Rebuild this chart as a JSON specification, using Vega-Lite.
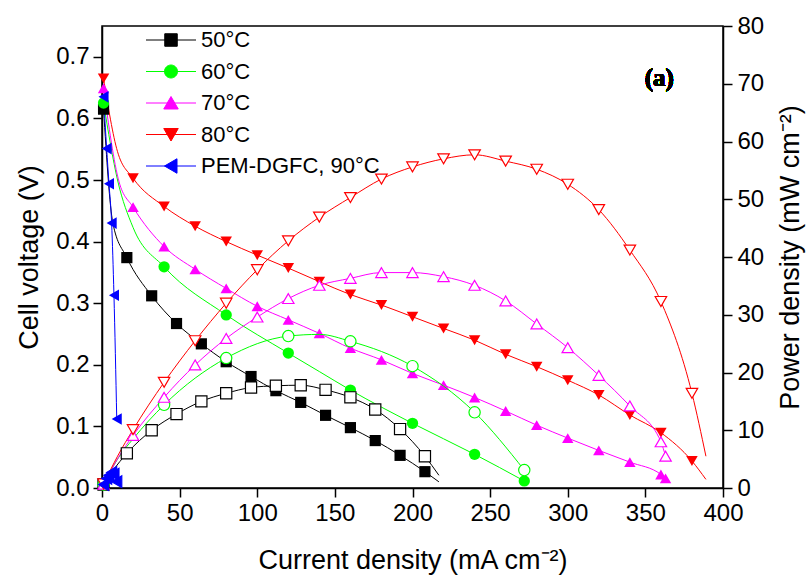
{
  "$schema": "https://vega.github.io/schema/vega-lite/v6.json",
  "width": 621,
  "height": 462,
  "autosize": {"type": "none"},
  "padding": {"left": 102, "top": 26, "right": 87, "bottom": 92},
  "background": "white",
  "config": {
    "font": "Liberation Sans",
    "view": {"stroke": "black", "strokeWidth": 1.5},
    "axis": {
      "domainColor": "black", "domainWidth": 1.5, "tickColor": "black", "tickWidth": 1.5,
      "labelColor": "black", "titleColor": "black", "titleFontWeight": "normal", "grid": false,
      "labelFontSize": 24, "titleFontSize": 27, "labelFont": "Liberation Sans", "titleFont": "Liberation Sans"
    },
    "legend": {
      "title": null, "orient": "none", "legendX": 58, "legendY": 3,
      "labelFontSize": 22, "labelFont": "Liberation Sans", "labelColor": "black", "labelLimit": 400,
      "symbolSize": 100, "symbolStrokeWidth": 1, "labelOffset": 19, "rowPadding": 9.5, "padding": 0, "symbolOffset": 0
    }
  },
  "data": {"values": [
    {"s": "50°C", "x": 1, "V": 0.615, "P": 0.6, "m": true},
    {"s": "50°C", "x": 7, "V": 0.43, "P": 3.0, "m": false},
    {"s": "50°C", "x": 16, "V": 0.374, "P": 6.0, "m": true},
    {"s": "50°C", "x": 32, "V": 0.312, "P": 10.0, "m": true},
    {"s": "50°C", "x": 48, "V": 0.267, "P": 12.8, "m": true},
    {"s": "50°C", "x": 64, "V": 0.234, "P": 15.0, "m": true},
    {"s": "50°C", "x": 80, "V": 0.205, "P": 16.4, "m": true},
    {"s": "50°C", "x": 96, "V": 0.181, "P": 17.4, "m": true},
    {"s": "50°C", "x": 112, "V": 0.158, "P": 17.7, "m": true},
    {"s": "50°C", "x": 128, "V": 0.139, "P": 17.8, "m": true},
    {"s": "50°C", "x": 144, "V": 0.118, "P": 17.0, "m": true},
    {"s": "50°C", "x": 160, "V": 0.098, "P": 15.7, "m": true},
    {"s": "50°C", "x": 176, "V": 0.077, "P": 13.6, "m": true},
    {"s": "50°C", "x": 192, "V": 0.053, "P": 10.2, "m": true},
    {"s": "50°C", "x": 208, "V": 0.0265, "P": 5.5, "m": true},
    {"s": "50°C", "x": 217, "V": 0.010, "P": 2.2, "m": false},
    {"s": "60°C", "x": 1, "V": 0.625, "P": 0.6, "m": true},
    {"s": "60°C", "x": 10, "V": 0.50, "P": 5.0, "m": false},
    {"s": "60°C", "x": 20, "V": 0.423, "P": 8.5, "m": false},
    {"s": "60°C", "x": 40, "V": 0.359, "P": 14.4, "m": true},
    {"s": "60°C", "x": 80, "V": 0.281, "P": 22.5, "m": true},
    {"s": "60°C", "x": 120, "V": 0.219, "P": 26.3, "m": true},
    {"s": "60°C", "x": 140, "V": 0.189, "P": 26.6, "m": false},
    {"s": "60°C", "x": 160, "V": 0.159, "P": 25.4, "m": true},
    {"s": "60°C", "x": 200, "V": 0.105, "P": 21.1, "m": true},
    {"s": "60°C", "x": 240, "V": 0.0547, "P": 13.1, "m": true},
    {"s": "60°C", "x": 272, "V": 0.0114, "P": 3.1, "m": true},
    {"s": "70°C", "x": 1, "V": 0.649, "P": 0.65, "m": true},
    {"s": "70°C", "x": 11, "V": 0.497, "P": 5.5, "m": false},
    {"s": "70°C", "x": 20, "V": 0.456, "P": 9.1, "m": true},
    {"s": "70°C", "x": 40, "V": 0.392, "P": 15.7, "m": true},
    {"s": "70°C", "x": 60, "V": 0.355, "P": 21.3, "m": true},
    {"s": "70°C", "x": 80, "V": 0.324, "P": 25.9, "m": true},
    {"s": "70°C", "x": 100, "V": 0.295, "P": 29.6, "m": true},
    {"s": "70°C", "x": 120, "V": 0.273, "P": 32.8, "m": true},
    {"s": "70°C", "x": 140, "V": 0.251, "P": 35.1, "m": true},
    {"s": "70°C", "x": 160, "V": 0.227, "P": 36.3, "m": true},
    {"s": "70°C", "x": 180, "V": 0.208, "P": 37.3, "m": true},
    {"s": "70°C", "x": 200, "V": 0.186, "P": 37.3, "m": true},
    {"s": "70°C", "x": 220, "V": 0.167, "P": 36.6, "m": true},
    {"s": "70°C", "x": 240, "V": 0.147, "P": 35.1, "m": true},
    {"s": "70°C", "x": 260, "V": 0.125, "P": 32.4, "m": true},
    {"s": "70°C", "x": 280, "V": 0.102, "P": 28.4, "m": true},
    {"s": "70°C", "x": 300, "V": 0.081, "P": 24.3, "m": true},
    {"s": "70°C", "x": 320, "V": 0.061, "P": 19.5, "m": true},
    {"s": "70°C", "x": 340, "V": 0.042, "P": 14.2, "m": true},
    {"s": "70°C", "x": 360, "V": 0.022, "P": 8.0, "m": true},
    {"s": "70°C", "x": 363, "V": 0.0157, "P": 5.5, "m": true},
    {"s": "80°C", "x": 1, "V": 0.665, "P": 0.7, "m": true},
    {"s": "80°C", "x": 10, "V": 0.546, "P": 5.5, "m": false},
    {"s": "80°C", "x": 20, "V": 0.503, "P": 10.1, "m": true},
    {"s": "80°C", "x": 40, "V": 0.457, "P": 18.3, "m": true},
    {"s": "80°C", "x": 60, "V": 0.425, "P": 25.5, "m": true},
    {"s": "80°C", "x": 80, "V": 0.400, "P": 32.0, "m": true},
    {"s": "80°C", "x": 100, "V": 0.378, "P": 37.8, "m": true},
    {"s": "80°C", "x": 120, "V": 0.357, "P": 42.8, "m": true},
    {"s": "80°C", "x": 140, "V": 0.335, "P": 46.9, "m": true},
    {"s": "80°C", "x": 160, "V": 0.314, "P": 50.3, "m": true},
    {"s": "80°C", "x": 180, "V": 0.297, "P": 53.5, "m": true},
    {"s": "80°C", "x": 200, "V": 0.278, "P": 55.6, "m": true},
    {"s": "80°C", "x": 220, "V": 0.259, "P": 57.0, "m": true},
    {"s": "80°C", "x": 240, "V": 0.240, "P": 57.7, "m": true},
    {"s": "80°C", "x": 260, "V": 0.217, "P": 56.6, "m": true},
    {"s": "80°C", "x": 280, "V": 0.197, "P": 55.2, "m": true},
    {"s": "80°C", "x": 300, "V": 0.175, "P": 52.6, "m": true},
    {"s": "80°C", "x": 320, "V": 0.151, "P": 48.2, "m": true},
    {"s": "80°C", "x": 340, "V": 0.1185, "P": 41.2, "m": true},
    {"s": "80°C", "x": 360, "V": 0.0898, "P": 32.3, "m": true},
    {"s": "80°C", "x": 380, "V": 0.0438, "P": 16.4, "m": true},
    {"s": "80°C", "x": 389, "V": 0.014, "P": 5.5, "m": false},
    {"s": "PEM-DGFC, 90°C", "x": 1, "V": 0.635, "P": 0.6, "m": true},
    {"s": "PEM-DGFC, 90°C", "x": 3, "V": 0.551, "P": 1.65, "m": true},
    {"s": "PEM-DGFC, 90°C", "x": 4.5, "V": 0.494, "P": 2.2, "m": true},
    {"s": "PEM-DGFC, 90°C", "x": 6.2, "V": 0.43, "P": 2.7, "m": true},
    {"s": "PEM-DGFC, 90°C", "x": 7.7, "V": 0.313, "P": 2.4, "m": true},
    {"s": "PEM-DGFC, 90°C", "x": 9.5, "V": 0.112, "P": 1.1, "m": true}
  ]},
  "layer": [
    {
      "layer": [
        {
          "mark": {"type": "line", "strokeWidth": 1, "interpolate": "monotone"},
          "encoding": {
            "x": {
              "field": "x", "type": "quantitative",
              "scale": {"domain": [0, 400], "nice": false},
              "axis": {
                "title": "Current density (mA cm⁻²)",
                "values": [0, 25, 50, 75, 100, 125, 150, 175, 200, 225, 250, 275, 300, 325, 350, 375, 400],
                "labelExpr": "datum.value % 50 ? '' : datum.label",
                "tickSize": {"condition": {"test": "datum.value % 50 != 0", "value": 5}, "value": 9},
                "labelPadding": 4, "titlePadding": 22, "labelFlush": false, "labelOverlap": false
              }
            },
            "y": {
              "field": "V", "type": "quantitative",
              "scale": {"domain": [0, 0.75], "nice": false},
              "axis": {
                "title": "Cell voltage (V)", "orient": "left",
                "values": [0, 0.05, 0.1, 0.15, 0.2, 0.25, 0.3, 0.35, 0.4, 0.45, 0.5, 0.55, 0.6, 0.65, 0.7],
                "format": ".1f",
                "labelExpr": "round(datum.value * 100) % 10 != 0 ? '' : datum.label",
                "tickSize": {"condition": {"test": "round(datum.value * 100) % 10 != 0", "value": 5}, "value": 9},
                "labelPadding": 4, "titlePadding": 12, "labelFlush": false, "labelOverlap": false
              }
            },
            "color": {"field": "s", "type": "nominal", "legend": null,
              "scale": {"domain": ["50°C", "60°C", "70°C", "80°C", "PEM-DGFC, 90°C"],
                        "range": ["#000000", "#00ff00", "#ff00ff", "#ff0000", "#0000ff"]}}
          }
        },
        {
          "transform": [{"filter": "datum.m"}],
          "mark": {"type": "point", "filled": true, "opacity": 1},
          "encoding": {
            "x": {"field": "x", "type": "quantitative"},
            "y": {"field": "V", "type": "quantitative"},
            "color": {"field": "s", "type": "nominal", "legend": null},
            "shape": {
              "field": "s", "type": "nominal", "legend": null,
              "scale": {"domain": ["50°C", "60°C", "70°C", "80°C", "PEM-DGFC, 90°C"],
                        "range": ["square", "circle", "triangle-up", "triangle-down", "triangle-left"]}
            },
            "size": {
              "field": "s", "type": "ordinal", "legend": null,
              "scale": {"domain": ["50°C", "60°C", "70°C", "80°C", "PEM-DGFC, 90°C"], "range": [125, 135, 190, 190, 165]}
            }
          }
        },
        {
          "mark": {"type": "text", "font": "Liberation Serif", "fontWeight": "bold", "fontSize": 25, "align": "center", "baseline": "middle", "color": "black"},
          "encoding": {
            "x": {"datum": 359},
            "y": {"datum": 0.666},
            "text": {"value": "(a)"}
          }
        }
      ]
    },
    {
      "layer": [
        {
          "mark": {"type": "line", "strokeWidth": 1, "interpolate": "monotone"},
          "encoding": {
            "x": {"field": "x", "type": "quantitative"},
            "y": {
              "field": "P", "type": "quantitative",
              "scale": {"domain": [0, 80], "nice": false},
              "axis": {
                "title": "Power density (mW cm⁻²)", "orient": "right", "titleAngle": 270, "titleBaseline": "top",
                "values": [0, 5, 10, 15, 20, 25, 30, 35, 40, 45, 50, 55, 60, 65, 70, 75, 80],
                "labelExpr": "datum.value % 10 ? '' : datum.label",
                "tickSize": {"condition": {"test": "datum.value % 10 != 0", "value": 5}, "value": 9},
                "labelPadding": 5, "titlePadding": 14, "labelFlush": false, "labelOverlap": false
              }
            },
            "color": {"field": "s", "type": "nominal", "legend": null,
              "scale": {"domain": ["50°C", "60°C", "70°C", "80°C", "PEM-DGFC, 90°C"],
                        "range": ["#000000", "#00ff00", "#ff00ff", "#ff0000", "#0000ff"]}}
          }
        },
        {
          "transform": [{"filter": "datum.m"}],
          "mark": {"type": "point", "filled": false, "opacity": 1, "strokeWidth": 1.2},
          "encoding": {
            "x": {"field": "x", "type": "quantitative"},
            "y": {"field": "P", "type": "quantitative"},
            "color": {"field": "s", "type": "nominal", "legend": null},
            "fill": {"condition": {"test": "datum.s === 'PEM-DGFC, 90°C'", "value": "#0000ff"}, "value": "white"},
            "shape": {
              "field": "s", "type": "nominal", "legend": null,
              "scale": {"domain": ["50°C", "60°C", "70°C", "80°C", "PEM-DGFC, 90°C"],
                        "range": ["square", "circle", "triangle-up", "triangle-down", "triangle-left"]}
            },
            "size": {"field": "s", "type": "ordinal", "legend": null}
          }
        }
      ]
    },
    {
      "transform": [{"filter": "false"}],
      "mark": {"type": "point", "filled": true, "opacity": 1, "strokeWidth": 1},
      "encoding": {
        "color": {"field": "s", "type": "nominal",
          "scale": {"domain": ["50°C", "60°C", "70°C", "80°C", "PEM-DGFC, 90°C"],
                    "range": ["#000000", "#00ff00", "#ff00ff", "#ff0000", "#0000ff"]}},
        "stroke": {"field": "s", "type": "nominal",
          "scale": {"domain": ["50°C", "60°C", "70°C", "80°C", "PEM-DGFC, 90°C"],
                    "range": ["#000000", "#00ff00", "#ff00ff", "#ff0000", "#0000ff"]}},
        "shape": {"field": "s", "type": "nominal",
          "scale": {"domain": ["50°C", "60°C", "70°C", "80°C", "PEM-DGFC, 90°C"],
                    "range": ["M-5,0H5M-1.25,-1.25H1.25V1.25H-1.25Z", "M-5,0H5M-1.3,0A1.3,1.3,0,1,0,1.3,0A1.3,1.3,0,1,0,-1.3,0Z", "M-5,0H5M0,-1.3L1.45,1.2L-1.45,1.2Z", "M-5,0H5M0,1.3L1.45,-1.2L-1.45,-1.2Z", "M-5,0H5M-1.3,0L1.2,-1.45L1.2,1.45Z"]}}
      }
    }
  ],
  "resolve": {"scale": {"y": "independent", "color": "independent", "shape": "independent", "stroke": "independent"}}
}
